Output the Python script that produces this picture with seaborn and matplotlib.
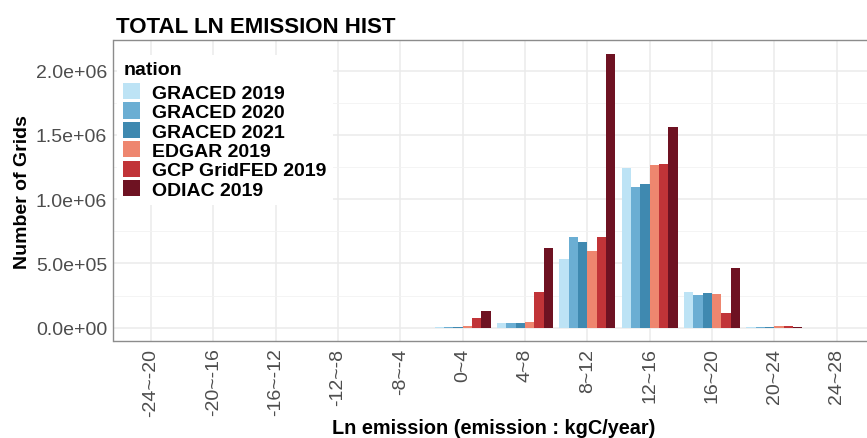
import pandas as pd
import matplotlib.pyplot as plt
from matplotlib.ticker import MultipleLocator, FuncFormatter
import seaborn as sns

# bins of ln(emission) and grid counts per inventory
bins = ['-24~-20', '-20~-16', '-16~-12', '-12~-8', '-8~-4', '0~4',
        '4~8', '8~12', '12~16', '16~20', '20~24', '24~28']
nations = ['GRACED 2019', 'GRACED 2020', 'GRACED 2021',
           'EDGAR 2019', 'GCP GridFED 2019', 'ODIAC 2019']

graced_2019 = [0, 0, 0, 0, 0, 4000, 37000, 534000, 1244000, 280000, 7000, 0]
graced_2020 = [0, 0, 0, 0, 0, 5000, 37000, 705000, 1094000, 257000, 8000, 0]
graced_2021 = [0, 0, 0, 0, 0, 5000, 37000, 669000, 1120000, 270000, 8000, 0]
edgar_2019 = [0, 0, 0, 0, 0, 9000, 47000, 596000, 1265000, 264000, 12000, 0]
gcp_2019 = [0, 0, 0, 0, 0, 78000, 275000, 702000, 1273000, 114000, 13000, 0]
odiac_2019 = [0, 0, 0, 0, 0, 130000, 620000, 2130000, 1565000, 464000, 6000, 0]

colors = ['#BDE3F5', '#6BAED3', '#3F89B0', '#EE866F', '#C13438', '#6E1222']

series = [graced_2019, graced_2020, graced_2021, edgar_2019, gcp_2019, odiac_2019]
rows = []
for name, vals in zip(nations, series):
    for b, v in zip(bins, vals):
        rows.append({'bin': b, 'count': v, 'nation': name})
df = pd.DataFrame(rows)

sns.set_style('white')
plt.rcParams['font.family'] = ['Liberation Sans', 'DejaVu Sans']
plt.rcParams['text.color'] = 'black'

fig = plt.figure(figsize=(8.67, 4.39), dpi=100)
ax = fig.add_axes([113.5 / 867, 96.7 / 439, 760.5 / 867, 301 / 439])

sns.barplot(data=df, x='bin', y='count', hue='nation', order=bins,
            hue_order=nations, palette=colors, width=0.9, gap=0,
            saturation=1, errorbar=None, linewidth=0, ax=ax)

ax.set_xlim(-0.6, len(bins) - 0.4)
ax.set_ylim(-106500, 2236500)

# grid like theme_bw
ax.set_axisbelow(True)
ax.yaxis.set_major_locator(MultipleLocator(500000))
ax.yaxis.set_minor_locator(MultipleLocator(250000))
ax.yaxis.set_major_formatter(FuncFormatter(lambda v, p: f"{v:.1e}"))
ax.grid(which='major', color='#EBEBEB', lw=1.1)
ax.grid(which='minor', axis='y', color='#F2F2F2', lw=0.6)
for s in ax.spines.values():
    s.set_color('#8C8C8C')
    s.set_linewidth(1.0)

ax.tick_params(axis='both', which='major', length=3, width=0.8, color='#555555',
               labelsize=14, labelcolor='#4D4D4D', pad=1.5)
ax.tick_params(which='minor', length=0)
ax.tick_params(axis='x', rotation=90)
for lbl in ax.get_xticklabels():
    lbl.set_va('top')
    lbl.set_ha('center')

ax.set_title('TOTAL LN EMISSION HIST', loc='left', fontsize=16,
             fontweight='bold', pad=5.8, x=2.5 / 760.5, color='black')
ax.set_xlabel('Ln emission (emission : kgC/year)', fontsize=14.3,
              fontweight='bold', color='black')
ax.xaxis.set_label_coords(0.5, -0.2545)
ax.set_ylabel('Number of Grids', fontsize=14, fontweight='bold', color='black')
ax.yaxis.set_label_coords(-0.1085, 0.5)

handles, labels = ax.get_legend_handles_labels()
leg = ax.legend(handles, labels, title='nation', loc='upper left',
                bbox_to_anchor=(0.005, 0.952), borderaxespad=0, borderpad=0.3,
                prop={'size': 14, 'weight': 'bold'},
                title_fontproperties={'size': 14, 'weight': 'bold'},
                alignment='left', handlelength=0.88, handleheight=0.9,
                labelspacing=0.03, handletextpad=0.62, labelcolor='black',
                frameon=True, facecolor='white', edgecolor='none',
                framealpha=1, fancybox=False)
leg.get_title().set_color('black')
leg._legend_box.sep = 4.0

fig.savefig('out.png', dpi=100)
